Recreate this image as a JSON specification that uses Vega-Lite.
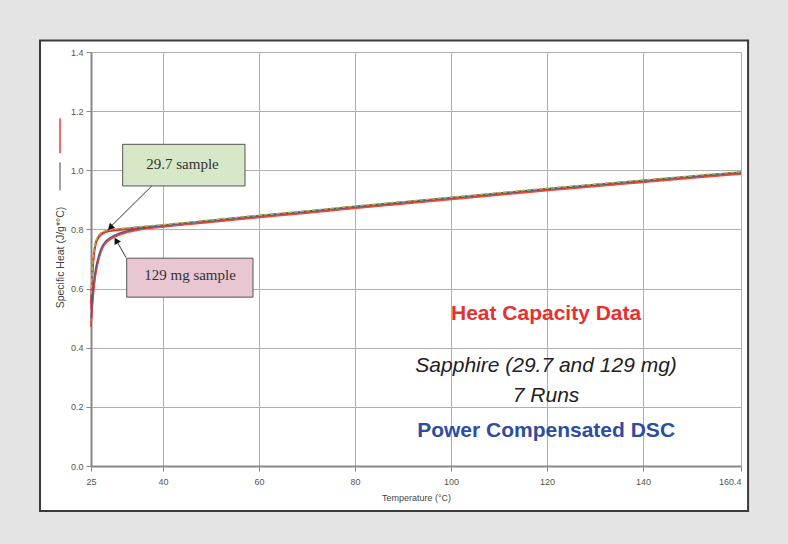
{
  "$schema": "https://vega.github.io/schema/vega-lite/v6.json",
  "width": 650,
  "height": 414,
  "autosize": "none",
  "padding": {"left": 91, "top": 52, "right": 47, "bottom": 78},
  "background": "white",
  "config": {
    "view": {"stroke": null, "fill": "white"},
    "font": "Liberation Sans",
    "axis": {
      "labelFont": "Liberation Sans", "labelFontSize": 9, "labelColor": "#555555",
      "titleFont": "Liberation Sans", "titleFontSize": 9, "titleFontWeight": "normal", "titleColor": "#444444",
      "gridColor": "#b0b0b0", "gridWidth": 1, "domainColor": "#888888", "domainWidth": 2,
      "tickColor": "#888888", "tickSize": 5, "labelPadding": 3
    }
  },
  "datasets": {
    "curves": [
      {"run":"A1","t":25,"cp":0.55},{"run":"A1","t":25.25,"cp":0.64},{"run":"A1","t":25.5,"cp":0.70},{"run":"A1","t":25.75,"cp":0.735},{"run":"A1","t":26,"cp":0.755},{"run":"A1","t":26.5,"cp":0.773},{"run":"A1","t":27,"cp":0.783},{"run":"A1","t":27.5,"cp":0.788},{"run":"A1","t":28,"cp":0.792},{"run":"A1","t":29,"cp":0.796},{"run":"A1","t":30,"cp":0.798},{"run":"A1","t":32,"cp":0.801},{"run":"A1","t":35,"cp":0.806},{"run":"A1","t":40,"cp":0.813},{"run":"A1","t":50,"cp":0.829},{"run":"A1","t":60,"cp":0.845},{"run":"A1","t":70,"cp":0.860},{"run":"A1","t":80,"cp":0.876},{"run":"A1","t":90,"cp":0.891},{"run":"A1","t":100,"cp":0.906},{"run":"A1","t":110,"cp":0.921},{"run":"A1","t":120,"cp":0.936},{"run":"A1","t":130,"cp":0.950},{"run":"A1","t":140,"cp":0.964},{"run":"A1","t":150,"cp":0.978},{"run":"A1","t":160.4,"cp":0.992},
      {"run":"A2","t":25,"cp":0.56},{"run":"A2","t":25.25,"cp":0.65},{"run":"A2","t":25.5,"cp":0.705},{"run":"A2","t":25.75,"cp":0.738},{"run":"A2","t":26,"cp":0.757},{"run":"A2","t":26.5,"cp":0.775},{"run":"A2","t":27,"cp":0.785},{"run":"A2","t":27.5,"cp":0.790},{"run":"A2","t":28,"cp":0.794},{"run":"A2","t":29,"cp":0.798},{"run":"A2","t":30,"cp":0.800},{"run":"A2","t":32,"cp":0.803},{"run":"A2","t":35,"cp":0.808},{"run":"A2","t":40,"cp":0.815},{"run":"A2","t":50,"cp":0.831},{"run":"A2","t":60,"cp":0.847},{"run":"A2","t":70,"cp":0.862},{"run":"A2","t":80,"cp":0.878},{"run":"A2","t":90,"cp":0.893},{"run":"A2","t":100,"cp":0.908},{"run":"A2","t":110,"cp":0.923},{"run":"A2","t":120,"cp":0.938},{"run":"A2","t":130,"cp":0.952},{"run":"A2","t":140,"cp":0.966},{"run":"A2","t":150,"cp":0.980},{"run":"A2","t":160.4,"cp":0.994},
      {"run":"A3","t":25,"cp":0.53},{"run":"A3","t":25.25,"cp":0.62},{"run":"A3","t":25.5,"cp":0.685},{"run":"A3","t":25.75,"cp":0.725},{"run":"A3","t":26,"cp":0.748},{"run":"A3","t":26.5,"cp":0.769},{"run":"A3","t":27,"cp":0.780},{"run":"A3","t":27.5,"cp":0.786},{"run":"A3","t":28,"cp":0.790},{"run":"A3","t":29,"cp":0.794},{"run":"A3","t":30,"cp":0.796},{"run":"A3","t":32,"cp":0.799},{"run":"A3","t":35,"cp":0.804},{"run":"A3","t":40,"cp":0.812},{"run":"A3","t":50,"cp":0.828},{"run":"A3","t":60,"cp":0.844},{"run":"A3","t":70,"cp":0.859},{"run":"A3","t":80,"cp":0.875},{"run":"A3","t":90,"cp":0.890},{"run":"A3","t":100,"cp":0.905},{"run":"A3","t":110,"cp":0.920},{"run":"A3","t":120,"cp":0.935},{"run":"A3","t":130,"cp":0.949},{"run":"A3","t":140,"cp":0.963},{"run":"A3","t":150,"cp":0.977},{"run":"A3","t":160.4,"cp":0.991},
      {"run":"B1","t":25,"cp":0.47},{"run":"B1","t":25.25,"cp":0.53},{"run":"B1","t":25.5,"cp":0.58},{"run":"B1","t":25.75,"cp":0.62},{"run":"B1","t":26,"cp":0.65},{"run":"B1","t":26.5,"cp":0.69},{"run":"B1","t":27,"cp":0.72},{"run":"B1","t":27.5,"cp":0.74},{"run":"B1","t":28,"cp":0.752},{"run":"B1","t":29,"cp":0.766},{"run":"B1","t":30,"cp":0.776},{"run":"B1","t":32,"cp":0.789},{"run":"B1","t":35,"cp":0.800},{"run":"B1","t":40,"cp":0.810},{"run":"B1","t":50,"cp":0.826},{"run":"B1","t":60,"cp":0.842},{"run":"B1","t":70,"cp":0.857},{"run":"B1","t":80,"cp":0.873},{"run":"B1","t":90,"cp":0.888},{"run":"B1","t":100,"cp":0.903},{"run":"B1","t":110,"cp":0.918},{"run":"B1","t":120,"cp":0.933},{"run":"B1","t":130,"cp":0.947},{"run":"B1","t":140,"cp":0.961},{"run":"B1","t":150,"cp":0.975},{"run":"B1","t":160.4,"cp":0.989},
      {"run":"B2","t":25,"cp":0.48},{"run":"B2","t":25.25,"cp":0.54},{"run":"B2","t":25.5,"cp":0.59},{"run":"B2","t":25.75,"cp":0.628},{"run":"B2","t":26,"cp":0.656},{"run":"B2","t":26.5,"cp":0.695},{"run":"B2","t":27,"cp":0.722},{"run":"B2","t":27.5,"cp":0.741},{"run":"B2","t":28,"cp":0.753},{"run":"B2","t":29,"cp":0.766},{"run":"B2","t":30,"cp":0.775},{"run":"B2","t":32,"cp":0.787},{"run":"B2","t":35,"cp":0.798},{"run":"B2","t":40,"cp":0.808},{"run":"B2","t":50,"cp":0.824},{"run":"B2","t":60,"cp":0.840},{"run":"B2","t":70,"cp":0.855},{"run":"B2","t":80,"cp":0.871},{"run":"B2","t":90,"cp":0.886},{"run":"B2","t":100,"cp":0.901},{"run":"B2","t":110,"cp":0.916},{"run":"B2","t":120,"cp":0.931},{"run":"B2","t":130,"cp":0.945},{"run":"B2","t":140,"cp":0.959},{"run":"B2","t":150,"cp":0.973},{"run":"B2","t":160.4,"cp":0.987},
      {"run":"B3","t":25,"cp":0.50},{"run":"B3","t":25.25,"cp":0.56},{"run":"B3","t":25.5,"cp":0.61},{"run":"B3","t":25.75,"cp":0.645},{"run":"B3","t":26,"cp":0.67},{"run":"B3","t":26.5,"cp":0.705},{"run":"B3","t":27,"cp":0.731},{"run":"B3","t":27.5,"cp":0.748},{"run":"B3","t":28,"cp":0.759},{"run":"B3","t":29,"cp":0.772},{"run":"B3","t":30,"cp":0.781},{"run":"B3","t":32,"cp":0.793},{"run":"B3","t":35,"cp":0.803},{"run":"B3","t":40,"cp":0.813},{"run":"B3","t":50,"cp":0.830},{"run":"B3","t":60,"cp":0.846},{"run":"B3","t":70,"cp":0.861},{"run":"B3","t":80,"cp":0.877},{"run":"B3","t":90,"cp":0.892},{"run":"B3","t":100,"cp":0.907},{"run":"B3","t":110,"cp":0.922},{"run":"B3","t":120,"cp":0.937},{"run":"B3","t":130,"cp":0.951},{"run":"B3","t":140,"cp":0.965},{"run":"B3","t":150,"cp":0.979},{"run":"B3","t":160.4,"cp":0.993},
      {"run":"A4","t":25,"cp":0.58},{"run":"A4","t":25.25,"cp":0.66},{"run":"A4","t":25.5,"cp":0.71},{"run":"A4","t":25.75,"cp":0.742},{"run":"A4","t":26,"cp":0.76},{"run":"A4","t":26.5,"cp":0.777},{"run":"A4","t":27,"cp":0.787},{"run":"A4","t":27.5,"cp":0.792},{"run":"A4","t":28,"cp":0.796},{"run":"A4","t":29,"cp":0.799},{"run":"A4","t":30,"cp":0.801},{"run":"A4","t":32,"cp":0.804},{"run":"A4","t":35,"cp":0.809},{"run":"A4","t":40,"cp":0.816},{"run":"A4","t":50,"cp":0.832},{"run":"A4","t":60,"cp":0.848},{"run":"A4","t":70,"cp":0.863},{"run":"A4","t":80,"cp":0.879},{"run":"A4","t":90,"cp":0.894},{"run":"A4","t":100,"cp":0.909},{"run":"A4","t":110,"cp":0.924},{"run":"A4","t":120,"cp":0.939},{"run":"A4","t":130,"cp":0.953},{"run":"A4","t":140,"cp":0.967},{"run":"A4","t":150,"cp":0.981},{"run":"A4","t":160.4,"cp":0.995}
    ],
    "boxes": [
      {"label": "29.7 sample", "t": 31.6, "t2": 57.08, "cp": 1.0878, "cp2": 0.947, "tx": 44.06, "ty": 1.006},
      {"label": "129 mg sample", "t": 32.44, "t2": 58.75, "cp": 0.7027, "cp2": 0.571, "tx": 45.63, "ty": 0.628}
    ],
    "arrows": [
      {"label": "29.7 sample", "t": 37.65, "cp": 0.947, "t2": 28.9, "cp2": 0.806},
      {"label": "129 mg sample", "t": 32.29, "cp": 0.705, "t2": 30.3, "cp2": 0.762}
    ]
  },
  "layer": [
    {
      "data": {"name": "curves"},
      "mark": {"type": "line", "strokeWidth": 1.5, "interpolate": "monotone"},
      "encoding": {
        "x": {"field": "t", "type": "quantitative", "title": "Temperature (°C)",
              "scale": {"domain": [25, 160.4], "nice": false, "zero": false},
              "axis": {"values": [25, 40, 60, 80, 100, 120, 140, 160.4], "labelExpr": "format(datum.value, '.4~g')", "labelFlush": false, "labelOverlap": false,
                       "labelAlign": {"condition": {"test": "datum.value > 160", "value": "right"}, "value": "center"},
                       "labelPadding": 6, "titleY": 31, "titleBaseline": "middle"}},
        "y": {"field": "cp", "type": "quantitative", "title": "Specific Heat (J/g*°C)",
              "scale": {"domain": [0, 1.4], "nice": false, "zero": false},
              "axis": {"values": [0, 0.2, 0.4, 0.6, 0.8, 1.0, 1.2, 1.4], "format": ".1f", "titleX": -31, "titleY": 205, "titleFontSize": 10.5, "titleAlign": "center", "titleBaseline": "middle", "titleAngle": 270}},
        "detail": {"field": "run"},
        "color": {"field": "run", "type": "nominal", "legend": null,
                  "scale": {"domain": ["A1","A2","A3","B1","B2","B3","A4"], "range": ["#e8302a","#e83a30","#e8302a","#e8302a","#ef4a3a","#4a5a8a","#8cc060"]}},
        "strokeDash": {"field": "run", "type": "nominal", "legend": null,
                  "scale": {"domain": ["A1","A2","A3","B1","B2","B3","A4"], "range": [[1,0],[1,0],[1,0],[1,0],[1,0],[1,0],[4,2]]}}
      }
    },
    {
      "data": {"name": "boxes"},
      "mark": {"type": "rect", "stroke": "#555555", "strokeWidth": 1, "clip": false},
      "encoding": {
        "x": {"field": "t", "type": "quantitative", "title": "Temperature (°C)"},
        "x2": {"field": "t2"},
        "y": {"field": "cp", "type": "quantitative", "title": "Specific Heat (J/g*°C)"},
        "y2": {"field": "cp2"},
        "fill": {"field": "label", "type": "nominal", "legend": null,
                 "scale": {"domain": ["29.7 sample", "129 mg sample"], "range": ["#d6e8c8", "#e8c6d2"]}}
      }
    },
    {
      "data": {"name": "boxes"},
      "mark": {"type": "text", "font": "Liberation Serif", "fontSize": 15, "color": "#333333", "align": "center", "baseline": "alphabetic"},
      "encoding": {
        "x": {"field": "tx", "type": "quantitative", "title": "Temperature (°C)"},
        "y": {"field": "ty", "type": "quantitative", "title": "Specific Heat (J/g*°C)"},
        "text": {"field": "label"}
      }
    },
    {
      "data": {"name": "arrows"},
      "mark": {"type": "rule", "color": "#333333", "strokeWidth": 1},
      "encoding": {
        "x": {"field": "t", "type": "quantitative", "title": "Temperature (°C)"},
        "x2": {"field": "t2"},
        "y": {"field": "cp", "type": "quantitative", "title": "Specific Heat (J/g*°C)"},
        "y2": {"field": "cp2"}
      }
    },
    {
      "data": {"values": [{"label": "29.7 sample", "t": 29.0, "cp": 0.806}]},
      "mark": {"type": "point", "shape": "triangle-up", "filled": true, "color": "#111111", "size": 55, "angle": 226, "opacity": 1},
      "encoding": {
        "x": {"field": "t", "type": "quantitative", "title": "Temperature (°C)"},
        "y": {"field": "cp", "type": "quantitative", "title": "Specific Heat (J/g*°C)"}
      }
    },
    {
      "data": {"values": [{"label": "129 mg sample", "t": 30.25, "cp": 0.7625}]},
      "mark": {"type": "point", "shape": "triangle-up", "filled": true, "color": "#111111", "size": 55, "angle": 331, "opacity": 1},
      "encoding": {
        "x": {"field": "t", "type": "quantitative", "title": "Temperature (°C)"},
        "y": {"field": "cp", "type": "quantitative", "title": "Specific Heat (J/g*°C)"}
      }
    },
    {
      "data": {"values": [{"text": "Heat Capacity Data", "t": 119.8, "cp": 0.493}]},
      "mark": {"type": "text", "font": "Liberation Sans", "fontSize": 21, "fontWeight": "bold", "color": "#e8312f", "align": "center", "baseline": "alphabetic"},
      "encoding": {
        "x": {"field": "t", "type": "quantitative", "title": "Temperature (°C)"},
        "y": {"field": "cp", "type": "quantitative", "title": "Specific Heat (J/g*°C)"},
        "text": {"field": "text"}
      }
    },
    {
      "data": {"values": [{"text": "Sapphire (29.7 and 129 mg)", "t": 119.8, "cp": 0.318}, {"text": "7 Runs", "t": 119.8, "cp": 0.216}]},
      "mark": {"type": "text", "font": "Liberation Sans", "fontSize": 21, "fontStyle": "italic", "color": "#222222", "align": "center", "baseline": "alphabetic"},
      "encoding": {
        "x": {"field": "t", "type": "quantitative", "title": "Temperature (°C)"},
        "y": {"field": "cp", "type": "quantitative", "title": "Specific Heat (J/g*°C)"},
        "text": {"field": "text"}
      }
    },
    {
      "data": {"values": [{"text": "Power Compensated DSC", "t": 119.8, "cp": 0.098}]},
      "mark": {"type": "text", "font": "Liberation Sans", "fontSize": 21, "fontWeight": "bold", "color": "#2e4d9e", "align": "center", "baseline": "alphabetic"},
      "encoding": {
        "x": {"field": "t", "type": "quantitative", "title": "Temperature (°C)"},
        "y": {"field": "cp", "type": "quantitative", "title": "Specific Heat (J/g*°C)"},
        "text": {"field": "text"}
      }
    },
    {
      "data": {"values": [{"series": "red"}]},
      "mark": {"type": "rule", "color": "#ef3b3b", "strokeWidth": 1.5, "clip": false},
      "encoding": {
        "x": {"datum": 18.54, "type": "quantitative", "title": "Temperature (°C)"},
        "y": {"datum": 1.1757, "type": "quantitative", "title": "Specific Heat (J/g*°C)"},
        "y2": {"datum": 1.0574}
      }
    },
    {
      "data": {"values": [{"series": "dark"}]},
      "mark": {"type": "rule", "color": "#444444", "strokeWidth": 1, "clip": false},
      "encoding": {
        "x": {"datum": 18.54, "type": "quantitative", "title": "Temperature (°C)"},
        "y": {"datum": 1.027, "type": "quantitative", "title": "Specific Heat (J/g*°C)"},
        "y2": {"datum": 0.932}
      }
    },
    {
      "data": {"values": [{"frame": "outer"}]},
      "mark": {"type": "rect", "fill": null, "fillOpacity": 0, "stroke": "#e4e4e4", "strokeWidth": 80, "clip": false},
      "encoding": {
        "x": {"datum": 6.042, "type": "quantitative", "title": "Temperature (°C)"},
        "x2": {"datum": 170.21},
        "y": {"datum": 1.5743, "type": "quantitative", "title": "Specific Heat (J/g*°C)"},
        "y2": {"datum": -0.2838}
      }
    },
    {
      "data": {"values": [{"frame": "panel"}]},
      "mark": {"type": "rect", "fill": null, "fillOpacity": 0, "stroke": "#3a3a3a", "strokeWidth": 2, "clip": false},
      "encoding": {
        "x": {"datum": 14.375, "type": "quantitative", "title": "Temperature (°C)"},
        "x2": {"datum": 161.875},
        "y": {"datum": 1.4392, "type": "quantitative", "title": "Specific Heat (J/g*°C)"},
        "y2": {"datum": -0.152}
      }
    }
  ]
}
